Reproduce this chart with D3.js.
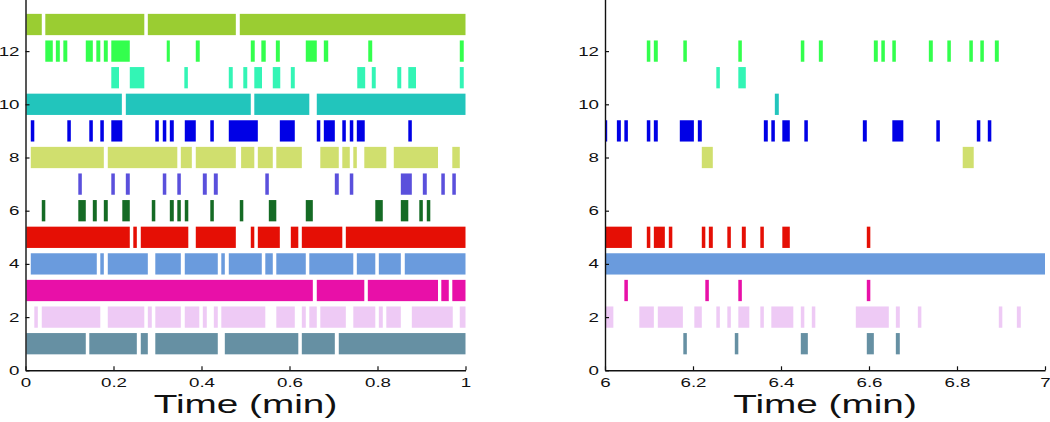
<!DOCTYPE html>
<html><head><meta charset="utf-8">
<script src="https://cdn.jsdelivr.net/npm/d3@7"></script>
<style>
html,body{margin:0;padding:0;background:#fff;}
svg{display:block;font-family:"Liberation Sans",Arial,Helvetica,sans-serif;}
</style></head>
<body><svg id="chart" width="1050" height="422"></svg>
<script>
// ---- data: behaviour rows 1..13, colours, tick labels ----
const rows = [1,2,3,4,5,6,7,8,9,10,11,12,13];
const rowColors = ["#6690a3","#eecaf5","#e810a8","#6a9bdd","#e50f05","#156b25","#5a50dc","#d0df6e","#0000e6","#22c5bc","#33f5b5","#33ff4d","#9acd32"];
const yTicks = [0,2,4,6,8,10,12];
const yTickLabels = ["0","2","4","6","8","10","12"];
const leftTicks = [0,0.2,0.4,0.6,0.8,1];
const leftTickLabels = ["0","0.2","0.4","0.6","0.8","1"];
const rightTicks = [6,6.2,6.4,6.6,6.8,7];
const rightTickLabels = ["6","6.2","6.4","6.6","6.8","7"];
const xTitle = "Time (min)";

// left panel (0-1 min) intervals per row
const L1 = [[0.002,0.137],[0.145,0.253],[0.262,0.278],[0.295,0.437],[0.453,0.620],[0.628,0.703],[0.712,1.0]];
const L2 = [[0.020,0.028],[0.037,0.170],[0.187,0.270],[0.278,0.287],[0.295,0.353],[0.362,0.395],[0.403,0.412],[0.428,0.437],[0.445,0.545],[0.570,0.612],[0.628,0.637],[0.645,0.662],[0.670,0.728],[0.745,0.795],[0.803,0.812],[0.820,0.853],[0.878,0.971],[0.987,1.0]];
const L3 = [[0.002,0.653],[0.662,0.770],[0.778,0.9375],[0.945,0.962],[0.970,1.0]];
const L4 = [[0.012,0.162],[0.170,0.178],[0.187,0.278],[0.295,0.353],[0.362,0.437],[0.445,0.453],[0.462,0.537],[0.545,0.562],[0.570,0.637],[0.645,0.745],[0.753,0.795],[0.803,0.853],[0.862,1.0]];
const L5 = [[0.002,0.237],[0.245,0.253],[0.262,0.370],[0.387,0.478],[0.512,0.520],[0.528,0.578],[0.603,0.620],[0.628,0.720],[0.728,1.0]];
const L6 = [[0.037,0.045],[0.120,0.137],[0.153,0.162],[0.178,0.187],[0.220,0.237],[0.287,0.295],[0.328,0.337],[0.345,0.353],[0.362,0.370],[0.420,0.428],[0.487,0.495],[0.553,0.570],[0.637,0.653],[0.795,0.812],[0.853,0.870],[0.895,0.903],[0.912,0.920]];
const L7 = [[0.120,0.128],[0.195,0.203],[0.228,0.237],[0.312,0.320],[0.345,0.353],[0.403,0.412],[0.428,0.437],[0.545,0.553],[0.703,0.712],[0.737,0.745],[0.853,0.878],[0.903,0.912],[0.945,0.953],[0.970,0.978]];
const L8 = [[0.012,0.178],[0.187,0.345],[0.353,0.378],[0.387,0.478],[0.490,0.520],[0.528,0.562],[0.570,0.628],[0.670,0.712],[0.720,0.737],[0.745,0.753],[0.770,0.820],[0.837,0.9375],[0.970,0.987]];
const L9 = [[0.012,0.020],[0.095,0.103],[0.145,0.153],[0.170,0.178],[0.195,0.220],[0.295,0.303],[0.312,0.320],[0.328,0.337],[0.362,0.387],[0.420,0.428],[0.462,0.528],[0.578,0.612],[0.662,0.670],[0.678,0.703],[0.720,0.728],[0.737,0.745],[0.753,0.771],[0.870,0.878]];
const L10 = [[0.002,0.219],[0.228,0.512],[0.520,0.645],[0.662,1.0]];
const L11 = [[0.195,0.2125],[0.237,0.270],[0.361,0.369],[0.462,0.471],[0.495,0.504],[0.520,0.5375],[0.562,0.579],[0.603,0.612],[0.754,0.772],[0.787,0.796],[0.845,0.854],[0.870,0.8875],[0.987,0.996]];
const L12 = [[0.045,0.062],[0.069,0.078],[0.086,0.095],[0.137,0.153],[0.161,0.170],[0.178,0.187],[0.195,0.237],[0.321,0.328],[0.387,0.396],[0.512,0.521],[0.536,0.546],[0.569,0.578],[0.637,0.662],[0.678,0.688],[0.779,0.788],[0.987,0.996]];
const L13 = [[0.002,0.037],[0.045,0.270],[0.278,0.478],[0.487,1.0]];

// right panel (6-7 min) intervals per row
const R1 = [[6.178,6.186],[6.295,6.303],[6.445,6.461],[6.595,6.611],[6.661,6.670]];
const R2 = [[6.002,6.019],[6.078,6.111],[6.120,6.177],[6.203,6.220],[6.253,6.261],[6.278,6.286],[6.303,6.328],[6.353,6.361],[6.378,6.428],[6.445,6.453],[6.470,6.478],[6.570,6.645],[6.661,6.670],[6.711,6.719],[6.895,6.903],[6.936,6.945]];
const R3 = [[6.044,6.052],[6.228,6.236],[6.303,6.311],[6.595,6.603]];
const R4 = [[6.0,7.0]];
const R5 = [[6.002,6.061],[6.095,6.103],[6.111,6.136],[6.145,6.153],[6.220,6.228],[6.236,6.245],[6.278,6.286],[6.311,6.320],[6.353,6.361],[6.403,6.420],[6.595,6.603]];
const R6 = [];
const R7 = [];
const R8 = [[6.220,6.245],[6.813,6.838]];
const R9 = [[6.0,6.005],[6.027,6.036],[6.044,6.052],[6.095,6.103],[6.111,6.120],[6.170,6.202],[6.211,6.220],[6.361,6.370],[6.378,6.386],[6.403,6.420],[6.453,6.461],[6.586,6.595],[6.653,6.678],[6.753,6.761],[6.845,6.853],[6.870,6.878]];
const R10 = [[6.386,6.395]];
const R11 = [[6.253,6.261],[6.303,6.320]];
const R12 = [[6.095,6.103],[6.111,6.120],[6.178,6.186],[6.303,6.311],[6.445,6.453],[6.486,6.495],[6.611,6.620],[6.628,6.636],[6.653,6.661],[6.736,6.745],[6.778,6.786],[6.828,6.836],[6.853,6.861],[6.886,6.895]];
const R13 = [];

const leftSets = [L1,L2,L3,L4,L5,L6,L7,L8,L9,L10,L11,L12,L13];
const rightSets = [R1,R2,R3,R4,R5,R6,R7,R8,R9,R10,R11,R12,R13];

// ---- drawing ----
const svg = d3.select("#chart");
const y = d3.scaleLinear().domain([0,14]).range([370.3,-2.1]);
const halfH = 0.4;
const sx = 1.5;

function flatten(sets){
  const out = [];
  sets.forEach((iv,i)=>iv.forEach(d=>out.push({row:rows[i],color:rowColors[i],a:d[0],b:d[1]})));
  return out;
}

function panel(domain, range, sets, ticks, tickLabels){
  const x = d3.scaleLinear().domain(domain).range(range);
  const g = svg.append("g");
  g.selectAll("rect.bar").data(flatten(sets)).join("rect")
    .attr("class","bar")
    .attr("x",d=>x(d.a))
    .attr("width",d=>Math.max(0.5,x(d.b)-x(d.a)))
    .attr("y",d=>y(d.row+halfH))
    .attr("height",d=>y(d.row-halfH)-y(d.row+halfH))
    .attr("fill",d=>d.color);

  const xa = d3.axisBottom(x).tickValues(ticks)
    .tickFormat((d,i)=>tickLabels[i]).tickSizeInner(-4).tickSizeOuter(0).tickPadding(8);
  const gx = g.append("g").attr("transform",`translate(0,${y(0)})`).call(xa);
  const ya = d3.axisLeft(y).tickValues(yTicks)
    .tickFormat((d,i)=>yTickLabels[i]).tickSizeInner(-4).tickSizeOuter(0).tickPadding(4);
  const gy = g.append("g").attr("transform",`translate(${range[0]},0)`).call(ya);
  [gx,gy].forEach(a=>{
    a.select(".domain").attr("stroke","#111").attr("stroke-width",1.4);
    a.selectAll(".tick line").attr("stroke","#111").attr("stroke-width",1.2);
    a.selectAll(".tick text").attr("font-size",12.5).attr("fill","#111")
      .attr("font-family","'Liberation Sans',Arial,sans-serif")
      .attr("transform",`scale(${sx},1)`);
  });
  gx.attr("font-family",null); gy.attr("font-family",null);

  const cx = (range[0]+range[1])/2;
  g.append("text").attr("transform",`translate(${cx},412.5) scale(1.55,1)`)
    .attr("text-anchor","middle").attr("font-size",25).attr("fill","#111")
    .text(xTitle);
}

panel([0,1],[25.5,465.5],leftSets,leftTicks,leftTickLabels);
panel([6,7],[605,1045],rightSets,rightTicks,rightTickLabels);
</script>
</body></html>
